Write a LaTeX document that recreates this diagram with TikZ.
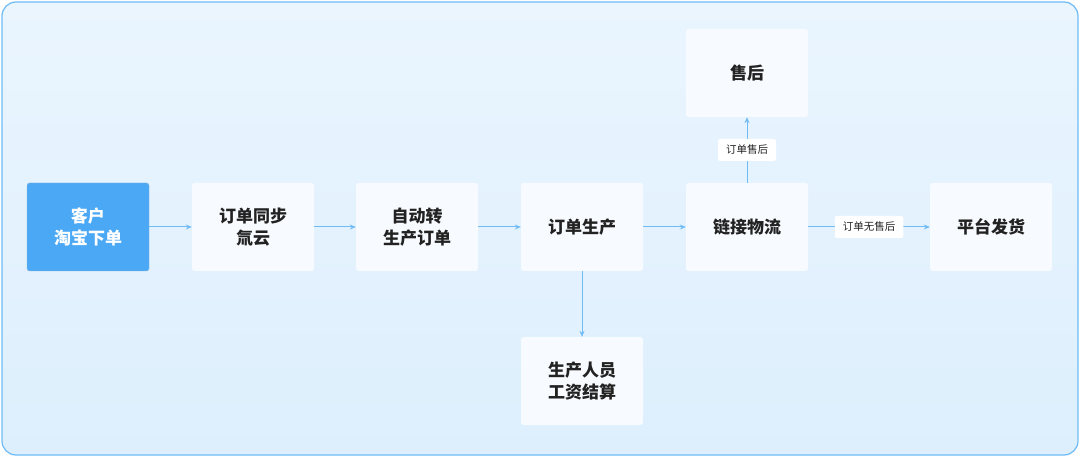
\documentclass[tikz,border=0pt]{standalone}
\usepackage{fontspec}
\setmainfont{Noto Sans CJK SC}
\usetikzlibrary{arrows.meta}
\definecolor{bgA}{HTML}{EAF5FE}
\definecolor{bgB}{HTML}{DDEFFD}
\definecolor{edge}{HTML}{6EBBF5}
\definecolor{boxfill}{HTML}{F7FAFE}
\definecolor{txt}{HTML}{222222}
\definecolor{hl}{HTML}{4AA8F5}
\tikzset{
 box/.style={rounded corners=2.5pt, fill=boxfill, minimum width=122pt, minimum height=88pt, align=center, text=txt, font=\fontsize{17}{22}\selectfont\bfseries, inner sep=0pt},
 hlbox/.style={box, fill=hl, text=white, draw=hl!80!black!60},
 lab/.style={rounded corners=2pt, fill=white, text=txt, font=\fontsize{10.5}{12}\selectfont, inner xsep=8pt, minimum height=22pt},
 arr/.style={draw=edge, line width=1pt, -{Stealth[length=6pt,width=5pt]}}
}
\begin{document}
\begin{tikzpicture}[x=1pt,y=-1pt]
\useasboundingbox (0,0) rectangle (1080,457);
\shade[rounded corners=14pt, top color=bgA, bottom color=bgB, draw=edge, line width=1.2pt] (2,2) rectangle (1078,455);
\node[hlbox] (a) at (88,227) {客户\\淘宝下单};
\node[box] (b) at (253,227) {订单同步\\氚云};
\node[box] (c) at (417,227) {自动转\\生产订单};
\node[box] (d) at (582,227) {订单生产};
\node[box] (e) at (747,227) {链接物流};
\node[box] (f) at (991,227) {平台发货};
\node[box] (g) at (747,73) {售后};
\node[box] (h) at (582,381) {生产人员\\工资结算};
\draw[arr] (a) -- (b);
\draw[arr] (b) -- (c);
\draw[arr] (c) -- (d);
\draw[arr] (d) -- (e);
\draw[arr] (e) -- node[lab] {订单无售后} (f);
\draw[arr] (e) -- node[lab] {订单售后} (g);
\draw[arr] (d) -- (h);
\end{tikzpicture}
\end{document}
